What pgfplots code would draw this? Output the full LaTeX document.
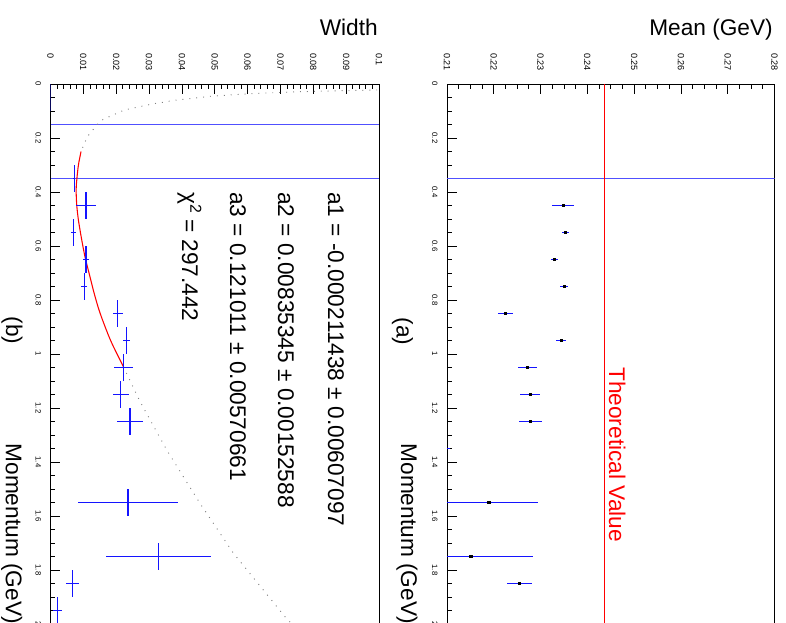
\documentclass[border=0pt]{standalone}
\usepackage{fontspec}
\setmainfont{Liberation Sans}
\usepackage{pgfplots}
\pgfplotsset{compat=1.18}
\definecolor{refblue}{RGB}{80,80,255}
\definecolor{errblue}{RGB}{20,20,255}

\pgfplotstableread{
p     v       ev
0.45  0.2348  0.0024
0.55  0.2353  0.0008
0.65  0.2329  0.00075
0.75  0.2350  0.0008
0.85  0.2225  0.0017
0.95  0.2344  0.0011
1.05  0.2272  0.0021
1.15  0.2278  0.0021
1.25  0.2278  0.0024
1.35  0.1950  0.0157
1.55  0.2189  0.0106
1.75  0.2151  0.0132
1.85  0.2255  0.0027
}\meantable

\pgfplotstableread{
p     v       ev      ep
0.05  0.0000  0.0000  0.05
0.35  0.0072  0.0003  0.05
0.45  0.0108  0.0029  0.05
0.55  0.0069  0.0008  0.05
0.65  0.0108  0.0008  0.05
0.75  0.0103  0.0009  0.05
0.85  0.0205  0.0015  0.05
0.95  0.0232  0.0011  0.05
1.05  0.0222  0.0028  0.05
1.15  0.0214  0.0024  0.05
1.25  0.0242  0.0039  0.05
1.55  0.0236  0.0153  0.05
1.75  0.0328  0.0160  0.05
1.85  0.0068  0.0020  0.05
1.95  0.0021  0.0014  0.05
}\widthtable

\pgfplotsset{
  panel/.style={
    scale only axis, height=405pt,
    anchor=north west,
    y dir=reverse, ymin=0, ymax=2,
    ytick={0,0.2,0.4,0.6,0.8,1,1.2,1.4,1.6,1.8,2},
    yticklabels={0,0.2,0.4,0.6,0.8,1,1.2,1.4,1.6,1.8,2},
    minor y tick num=3,
    tick align=inside,
    xtick pos=right, ytick pos=left,
    xticklabel pos=right, yticklabel pos=left,
    major tick length=7.2pt, minor tick length=3.7pt,
    tick style={black, line width=0.6pt},
    axis line style={line width=0.75pt},
    xticklabel style={font=\fontsize{6.8}{7}\selectfont, rotate=-90, anchor=west, inner sep=0pt},
    xticklabel shift=23.25pt,
    yticklabel style={font=\fontsize{5.8}{6}\selectfont, rotate=-90, anchor=north, inner sep=0pt},
    yticklabel shift=7pt,
    scaled x ticks=false,
    clip=true,
  }
}

\begin{document}
\begin{tikzpicture}
\useasboundingbox (0,0) rectangle (589.5pt,-466.5pt);

% ---------------- panel (b): Width
\begin{axis}[panel, at={(37.875pt,-63pt)}, width=246.375pt,
  xmin=0, xmax=0.1,
  xtick={0,0.01,0.02,0.03,0.04,0.05,0.06,0.07,0.08,0.09,0.1},
  xticklabels={0,0.01,0.02,0.03,0.04,0.05,0.06,0.07,0.08,0.09,0.1},
  minor x tick num=4]
\addplot[refblue, line width=1pt] coordinates {(0,0.15) (0.1,0.15)};
\addplot[refblue, line width=1pt] coordinates {(0,0.35) (0.1,0.35)};
\addplot[gray, line width=0.7pt, dash pattern=on 0.7pt off 4.5pt] coordinates {
 (0.110,0.020) (0.100,0.022) (0.088,0.025) (0.076,0.0285) (0.062,0.035)
 (0.049,0.045) (0.038,0.06) (0.031,0.074) (0.0225,0.096) (0.016,0.131)
 (0.0143,0.149) (0.0112,0.195) (0.0093,0.25)};
\addplot[gray, line width=0.7pt, dash pattern=on 0.7pt off 4.5pt] coordinates {
 (0.0222,1.047) (0.0273,1.177) (0.0354,1.356) (0.0455,1.553) (0.0557,1.738)
 (0.0714,1.973) (0.0735,2.0)};
\addplot[red, line width=0.8pt, smooth] coordinates {
 (0.0093,0.25) (0.0085,0.30) (0.0080,0.355) (0.0078,0.393) (0.0080,0.45)
 (0.0085,0.504) (0.0094,0.57) (0.0105,0.64) (0.0120,0.713) (0.0134,0.78)
 (0.0151,0.849) (0.0183,0.95) (0.0222,1.047)};
\addplot[errblue, draw=none, mark=none,
  error bars/.cd, x dir=both, x explicit, y dir=both, y explicit,
  error mark=none, error bar style={draw=errblue, solid, line width=0.9pt}]
  table[x=v, y=p, x error=ev, y error=ep] {\widthtable};
\end{axis}

% ---------------- panel (a): Mean
\begin{axis}[panel, at={(335.25pt,-63pt)}, width=245.625pt,
  xmin=0.21, xmax=0.28,
  xtick={0.21,0.22,0.23,0.24,0.25,0.26,0.27,0.28},
  xticklabels={0.21,0.22,0.23,0.24,0.25,0.26,0.27,0.28},
  minor x tick num=3]
\addplot[refblue, line width=1pt] coordinates {(0.21,0.35) (0.28,0.35)};
\addplot[red, line width=1pt] coordinates {(0.2437,0) (0.2437,2)};
\addplot[errblue, draw=none, mark=none,
  error bars/.cd, x dir=both, x explicit,
  error mark=none, error bar style={draw=errblue, solid, line width=0.9pt}]
  table[x=v, y=p, x error=ev] {\meantable};
\addplot[black, only marks, mark=square*, mark size=0.9pt]
  table[x=v, y=p] {\meantable};
\end{axis}

% ---------------- texts
\node[anchor=base east, inner sep=0pt, font=\fontsize{17}{20}\selectfont] at (283.5pt,-26.25pt) {Width};
\node[anchor=base east, inner sep=0pt, font=\fontsize{17}{20}\selectfont] at (579.75pt,-26.25pt) {Mean (GeV)};
\node[rotate=-90, anchor=base east, inner sep=0pt, font=\fontsize{17}{20}\selectfont] at (300.75pt,-468pt) {Momentum (GeV)};
\node[rotate=-90, anchor=base east, inner sep=0pt, font=\fontsize{17}{20}\selectfont] at (4.5pt,-468pt) {Momentum (GeV)};
\node[rotate=-90, inner sep=0pt, font=\fontsize{17}{20}\selectfont] at (301.9pt,-248.6pt) {(a)};
\node[rotate=-90, inner sep=0pt, font=\fontsize{17}{20}\selectfont] at (9pt,-247.9pt) {(b)};
\node[rotate=-90, anchor=base west, inner sep=0pt, text=red, font=\fontsize{17}{20}\selectfont] at (456.75pt,-275.25pt) {Theoretical Value};
\node[rotate=-90, anchor=base west, inner sep=0pt, font=\fontsize{17}{20}\selectfont] at (246pt,-144pt) {a1 = -0.000211438 ± 0.00607097};
\node[rotate=-90, anchor=base west, inner sep=0pt, font=\fontsize{17}{20}\selectfont] at (208.5pt,-144pt) {a2 = 0.00835345 ± 0.00152588};
\node[rotate=-90, anchor=base west, inner sep=0pt, font=\fontsize{17}{20}\selectfont] at (172.5pt,-144pt) {a3 = 0.121011 ± 0.00570661};
\node[rotate=-90, anchor=base west, inner sep=0pt, font=\fontsize{17}{20}\selectfont] at (136.5pt,-144pt) {χ\textsuperscript{2} = 297.442};
\end{tikzpicture}
\end{document}
